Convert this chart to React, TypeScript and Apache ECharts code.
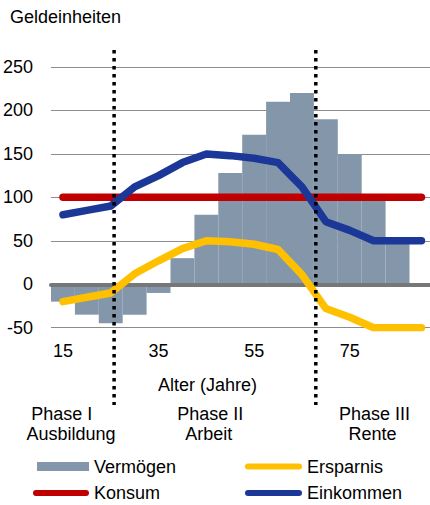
import React, { useEffect, useRef } from "react";
import * as echarts from "echarts";

// ---- data ----
const ages = ["15", "20", "25", "30", "35", "40", "45", "50", "55", "60", "65", "70", "75", "80", "85", "90"];
const vermoegen = [-20, -35, -45, -35, -10, 30, 80, 128, 172, 210, 220, 190, 150, 100, 50];
const ersparnis = [-20, -15, -10, 12, 27, 41, 50, 49, 46, 40, 11, -28, -38, -50, -50, -50];
const konsum = [100, 100, 100, 100, 100, 100, 100, 100, 100, 100, 100, 100, 100, 100, 100, 100];
const einkommen = [80, 85, 90, 112, 125, 140, 150, 148, 145, 140, 112, 72, 62, 50, 50, 50];
const yMin = -50;
const yMax = 250;
const yStep = 50;
const phaseBoundaryAges = [25.7, 67.9];
const yAxisTitle = "Geldeinheiten";
const xAxisTitle = "Alter (Jahre)";
const phaseLabels = [
  ["Phase I", "Ausbildung"],
  ["Phase II", "Arbeit"],
  ["Phase III", "Rente"],
];

const FONT = '"Liberation Sans", Arial, sans-serif';
const CAPSULE = "path://M3,0H54A3,3 0 0 1 54,6H3A3,3 0 0 1 3,0Z";

export default function App() {
  const ref = useRef<HTMLDivElement>(null);

  useEffect(() => {
    document.body.style.margin = "0";
    if (!ref.current) return;
    const chart = echarts.init(ref.current, null, { renderer: "svg" });

    const legendBase = {
      padding: 0,
      itemGap: 0,
      selectedMode: false,
      textStyle: { fontSize: 18, color: "#000", fontFamily: FONT },
    };

    const lineSeries = (name: string, data: number[], color: string) => ({
      name,
      type: "line",
      data,
      xAxisIndex: 0,
      symbol: "none",
      z: 4,
      itemStyle: { color },
      lineStyle: { color, width: 7.5, cap: "round", join: "round" },
    });

    const option: any = {
      animation: false,
      textStyle: { fontFamily: FONT },
      grid: {
        left: 51,
        top: 67,
        width: 382.4,
        height: 260.7,
        containLabel: false,
        outerBoundsMode: "none",
      },
      xAxis: [
        {
          type: "category",
          data: ages,
          position: "bottom",
          axisLine: { show: false, onZero: false },
          axisTick: { show: false },
          splitLine: { show: false },
          axisLabel: { interval: 3, fontSize: 18, color: "#000", margin: 14, fontFamily: FONT },
        },
        {
          type: "value",
          min: 12.5,
          max: 92.5,
          position: "bottom",
          z: 3,
          axisLine: { show: true, onZero: true, onZeroAxisIndex: 0, lineStyle: { color: "#777777", width: 4 } },
          axisTick: { show: false },
          axisLabel: { show: false },
          splitLine: { show: false },
        },
      ],
      yAxis: {
        type: "value",
        min: yMin,
        max: yMax,
        interval: yStep,
        axisLine: { show: false },
        axisTick: { show: false },
        axisLabel: { fontSize: 18, color: "#000", margin: 18, fontFamily: FONT },
        splitLine: { lineStyle: { color: "#8c8c8c", width: 1 } },
      },
      legend: [
        { ...legendBase, data: ["Vermögen"], left: 37, top: 457.5, itemWidth: 52, itemHeight: 9, icon: "rect" },
        { ...legendBase, data: ["Ersparnis"], left: 245, top: 457.5, itemWidth: 57, itemHeight: 6, icon: CAPSULE },
        { ...legendBase, data: ["Konsum"], left: 33, top: 484, itemWidth: 56, itemHeight: 6, icon: CAPSULE },
        { ...legendBase, data: ["Einkommen"], left: 245, top: 484, itemWidth: 57, itemHeight: 6, icon: CAPSULE },
      ],
      series: [
        {
          name: "Vermögen",
          type: "bar",
          data: vermoegen,
          xAxisIndex: 0,
          barCategoryGap: "0%",
          z: 2,
          itemStyle: { color: "#8497AA" },
        },
        lineSeries("Ersparnis", ersparnis, "#FFC000"),
        lineSeries("Konsum", konsum, "#C00000"),
        lineSeries("Einkommen", einkommen, "#1B3797"),
      ],
    };

    chart.setOption(option);

    const xs = phaseBoundaryAges.map((a) => chart.convertToPixel({ xAxisIndex: 1 } as any, a) as number);

    const txt = (text: string, x: number, y: number, align: string = "center") => ({
      type: "text",
      z: 50,
      style: {
        text,
        x,
        y,
        fill: "#000",
        fontSize: 18,
        fontFamily: FONT,
        align,
        verticalAlign: "middle",
      },
    });

    const phaseX = [
      [61.7, 71],
      [210.3, 208.7],
      [374.5, 372.5],
    ];

    const graphics: any[] = [
      txt(yAxisTitle, 10, 16.5, "left"),
      txt(xAxisTitle, 207.5, 385),
    ];
    phaseLabels.forEach((lines, i) => {
      graphics.push(txt(lines[0], phaseX[i][0], 414));
      graphics.push(txt(lines[1], phaseX[i][1], 433.5));
    });
    xs.forEach((x) => {
      graphics.push({
        type: "line",
        z: 100,
        shape: { x1: x, y1: 50, x2: x, y2: 405 },
        style: { stroke: "#000", lineWidth: 3.5, lineDash: [3.5, 4.5] },
      });
    });

    chart.setOption({ graphic: graphics });

    return () => chart.dispose();
  }, []);

  return <div ref={ref} style={{ width: 430, height: 505 }} />;
}
